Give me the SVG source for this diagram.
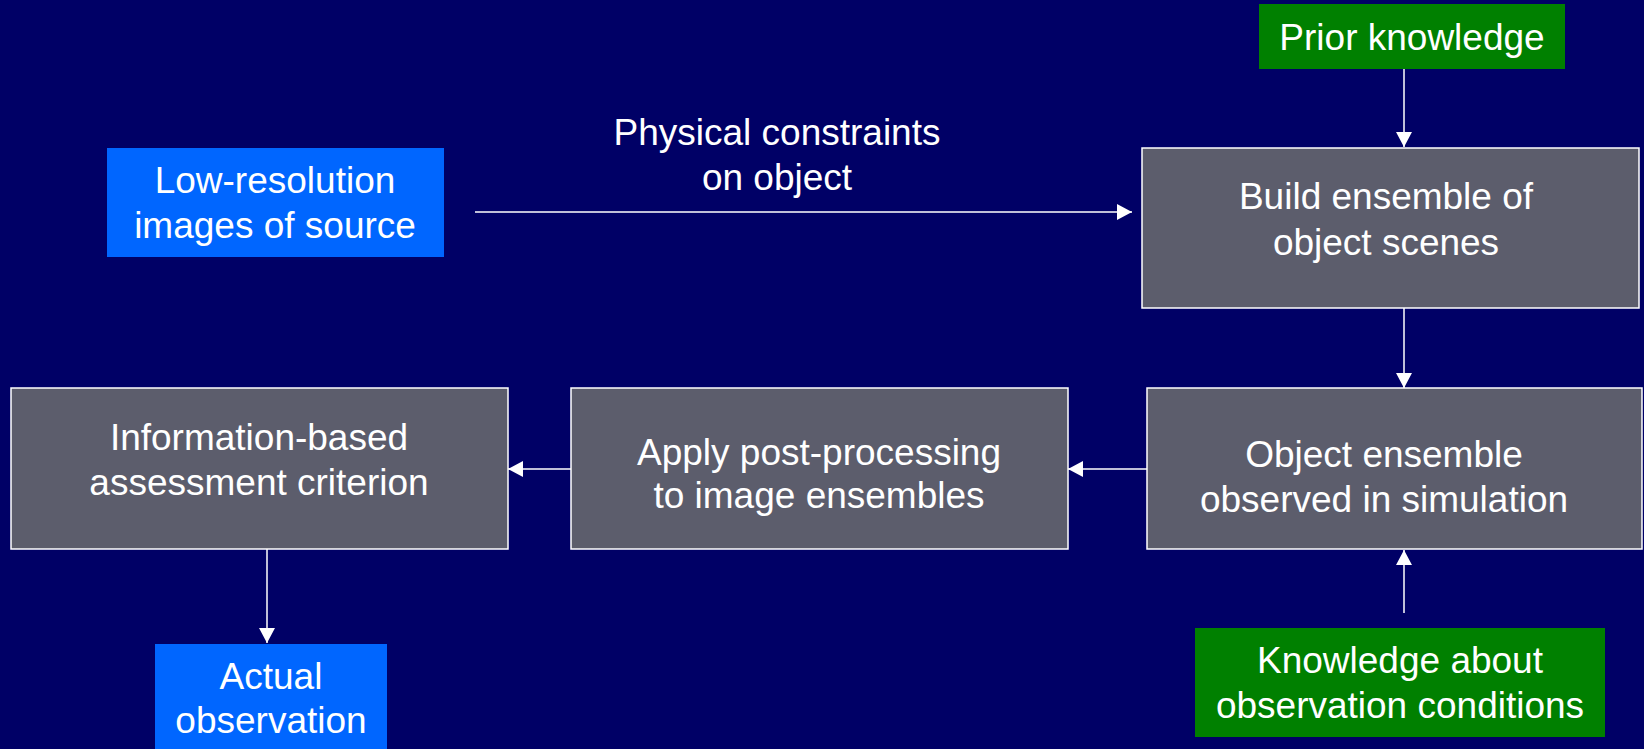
<svg xmlns="http://www.w3.org/2000/svg" width="1644" height="749" viewBox="0 0 1644 749">
<style>
.bg{fill:#000066}
.gray{fill:#5c5d6c;stroke:#ffffff;stroke-width:1.5}
.blue{fill:#0066ff}
.green{fill:#008000}
text{font-family:"Liberation Sans",Arial,sans-serif;font-size:37px;fill:#ffffff;text-anchor:middle}
.conn{stroke:#ffffff;stroke-width:1.5;fill:none;marker-end:url(#ah)}
</style>
<defs>
<marker id="ah" markerUnits="userSpaceOnUse" markerWidth="16" markerHeight="16" viewBox="0 0 16 16" refX="15" refY="8" orient="auto">
<path d="M0,0 L15,8 L0,16 Z" fill="#ffffff"/>
</marker>
</defs>
<rect class="bg" x="0" y="0" width="1644" height="749"/>
<g id="connectors">
<line class="conn" x1="1404" y1="69" x2="1404" y2="147"/>
<line class="conn" x1="475" y1="212" x2="1132" y2="212"/>
<line class="conn" x1="1404" y1="308" x2="1404" y2="388"/>
<line class="conn" x1="1147" y1="469" x2="1068" y2="469"/>
<line class="conn" x1="571" y1="469" x2="508" y2="469"/>
<line class="conn" x1="1404" y1="613" x2="1404" y2="550"/>
<line class="conn" x1="267" y1="549" x2="267" y2="643"/>
</g>
<g id="prior">
<rect class="green" x="1259" y="4" width="306" height="65"/>
<text x="1412" y="50">Prior knowledge</text>
</g>
<g id="lowres">
<rect class="blue" x="107" y="148" width="337" height="109"/>
<text x="275" y="193">Low-resolution</text>
<text x="275" y="238">images of source</text>
</g>
<g id="physical">
<text x="777" y="145">Physical constraints</text>
<text x="777" y="190">on object</text>
</g>
<g id="build">
<rect class="gray" x="1142" y="148" width="497" height="160"/>
<text x="1386" y="209">Build ensemble of</text>
<text x="1386" y="255">object scenes</text>
</g>
<g id="object">
<rect class="gray" x="1147" y="388" width="495" height="161"/>
<text x="1384" y="467">Object ensemble</text>
<text x="1384" y="512">observed in simulation</text>
</g>
<g id="apply">
<rect class="gray" x="571" y="388" width="497" height="161"/>
<text x="819" y="465">Apply post-processing</text>
<text x="819" y="508">to image ensembles</text>
</g>
<g id="info">
<rect class="gray" x="11" y="388" width="497" height="161"/>
<text x="259" y="450">Information-based</text>
<text x="259" y="495">assessment criterion</text>
</g>
<g id="knowledge">
<rect class="green" x="1195" y="628" width="410" height="109"/>
<text x="1400" y="673">Knowledge about</text>
<text x="1400" y="718">observation conditions</text>
</g>
<g id="actual">
<rect class="blue" x="155" y="644" width="232" height="105"/>
<text x="271" y="689">Actual</text>
<text x="271" y="733">observation</text>
</g>
</svg>
